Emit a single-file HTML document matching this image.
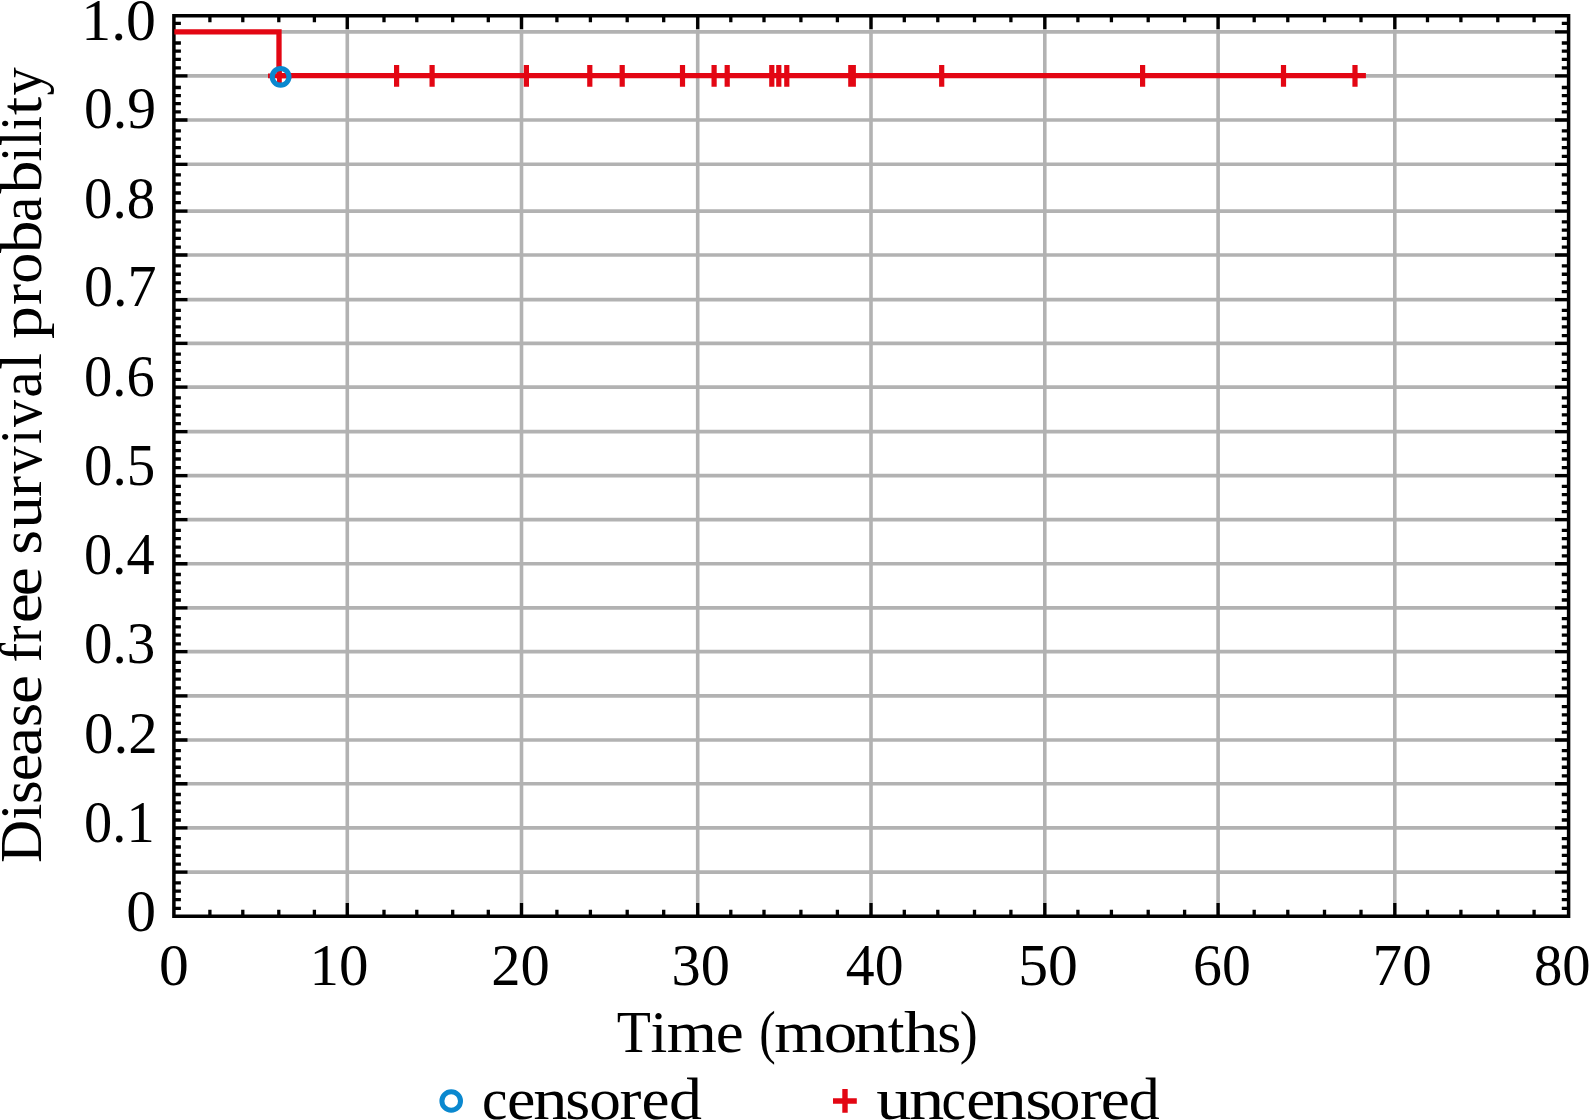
<!DOCTYPE html>
<html><head><meta charset="utf-8"><title>Disease free survival</title>
<style>
html,body{margin:0;padding:0;background:#fff;width:1589px;height:1120px;overflow:hidden}
svg{display:block}
text{font-family:"Liberation Serif",serif;fill:#000;font-kerning:none}
</style></head>
<body>
<svg width="1589" height="1120" viewBox="0 0 1589 1120">
<rect width="1589" height="1120" fill="#fff"/>
<path d="M173.90 31.90H1568.60M173.90 75.90H1568.60M173.90 120.00H1568.60M173.90 164.30H1568.60M173.90 211.10H1568.60M173.90 255.00H1568.60M173.90 299.60H1568.60M173.90 343.40H1568.60M173.90 387.10H1568.60M173.90 431.60H1568.60M173.90 475.60H1568.60M173.90 519.60H1568.60M173.90 563.75H1568.60M173.90 607.90H1568.60M173.90 651.60H1568.60M173.90 695.90H1568.60M173.90 740.00H1568.60M173.90 783.75H1568.60M173.90 827.90H1568.60M173.90 872.10H1568.60M347.30 15.75V916.25M521.50 15.75V916.25M697.70 15.75V916.25M871.00 15.75V916.25M1044.80 15.75V916.25M1218.10 15.75V916.25M1394.80 15.75V916.25" stroke="#b2b2b2" stroke-width="3.6" fill="none"/>
<path d="M173.90 31.90H187.50M1568.60 31.90H1555.00M173.90 75.90H187.50M1568.60 75.90H1555.00M173.90 120.00H187.50M1568.60 120.00H1555.00M173.90 164.30H187.50M1568.60 164.30H1555.00M173.90 211.10H187.50M1568.60 211.10H1555.00M173.90 255.00H187.50M1568.60 255.00H1555.00M173.90 299.60H187.50M1568.60 299.60H1555.00M173.90 343.40H187.50M1568.60 343.40H1555.00M173.90 387.10H187.50M1568.60 387.10H1555.00M173.90 431.60H187.50M1568.60 431.60H1555.00M173.90 475.60H187.50M1568.60 475.60H1555.00M173.90 519.60H187.50M1568.60 519.60H1555.00M173.90 563.75H187.50M1568.60 563.75H1555.00M173.90 607.90H187.50M1568.60 607.90H1555.00M173.90 651.60H187.50M1568.60 651.60H1555.00M173.90 695.90H187.50M1568.60 695.90H1555.00M173.90 740.00H187.50M1568.60 740.00H1555.00M173.90 783.75H187.50M1568.60 783.75H1555.00M173.90 827.90H187.50M1568.60 827.90H1555.00M173.90 872.10H187.50M1568.60 872.10H1555.00M173.90 23.40H180.90M1568.60 23.40H1561.80M173.90 43.00H180.90M1568.60 43.00H1561.80M173.90 51.20H180.90M1568.60 51.20H1561.80M173.90 59.40H180.90M1568.60 59.40H1561.80M173.90 67.90H180.90M1568.60 67.90H1561.80M173.90 87.50H180.90M1568.60 87.50H1561.80M173.90 95.60H180.90M1568.60 95.60H1561.80M173.90 103.60H180.90M1568.60 103.60H1561.80M173.90 111.90H180.90M1568.60 111.90H1561.80M173.90 174.80H180.90M1568.60 174.80H1561.80M173.90 184.00H180.90M1568.60 184.00H1561.80M173.90 193.00H180.90M1568.60 193.00H1561.80M173.90 202.70H180.90M1568.60 202.70H1561.80M173.90 130.81H180.90M1568.60 130.81H1561.80M173.90 139.14H180.90M1568.60 139.14H1561.80M173.90 147.60H180.90M1568.60 147.60H1561.80M173.90 156.37H180.90M1568.60 156.37H1561.80M173.90 221.81H180.90M1568.60 221.81H1561.80M173.90 230.06H180.90M1568.60 230.06H1561.80M173.90 238.45H180.90M1568.60 238.45H1561.80M173.90 247.14H180.90M1568.60 247.14H1561.80M173.90 265.88H180.90M1568.60 265.88H1561.80M173.90 274.27H180.90M1568.60 274.27H1561.80M173.90 282.79H180.90M1568.60 282.79H1561.80M173.90 291.62H180.90M1568.60 291.62H1561.80M173.90 310.29H180.90M1568.60 310.29H1561.80M173.90 318.52H180.90M1568.60 318.52H1561.80M173.90 326.89H180.90M1568.60 326.89H1561.80M173.90 335.56H180.90M1568.60 335.56H1561.80M173.90 354.06H180.90M1568.60 354.06H1561.80M173.90 362.28H180.90M1568.60 362.28H1561.80M173.90 370.63H180.90M1568.60 370.63H1561.80M173.90 379.28H180.90M1568.60 379.28H1561.80M173.90 397.96H180.90M1568.60 397.96H1561.80M173.90 406.32H180.90M1568.60 406.32H1561.80M173.90 414.82H180.90M1568.60 414.82H1561.80M173.90 423.63H180.90M1568.60 423.63H1561.80M173.90 442.34H180.90M1568.60 442.34H1561.80M173.90 450.61H180.90M1568.60 450.61H1561.80M173.90 459.01H180.90M1568.60 459.01H1561.80M173.90 467.72H180.90M1568.60 467.72H1561.80M173.90 486.34H180.90M1568.60 486.34H1561.80M173.90 494.61H180.90M1568.60 494.61H1561.80M173.90 503.01H180.90M1568.60 503.01H1561.80M173.90 511.72H180.90M1568.60 511.72H1561.80M173.90 530.37H180.90M1568.60 530.37H1561.80M173.90 538.67H180.90M1568.60 538.67H1561.80M173.90 547.11H180.90M1568.60 547.11H1561.80M173.90 555.85H180.90M1568.60 555.85H1561.80M173.90 574.52H180.90M1568.60 574.52H1561.80M173.90 582.82H180.90M1568.60 582.82H1561.80M173.90 591.26H180.90M1568.60 591.26H1561.80M173.90 600.00H180.90M1568.60 600.00H1561.80M173.90 618.56H180.90M1568.60 618.56H1561.80M173.90 626.78H180.90M1568.60 626.78H1561.80M173.90 635.13H180.90M1568.60 635.13H1561.80M173.90 643.78H180.90M1568.60 643.78H1561.80M173.90 662.41H180.90M1568.60 662.41H1561.80M173.90 670.74H180.90M1568.60 670.74H1561.80M173.90 679.20H180.90M1568.60 679.20H1561.80M173.90 687.97H180.90M1568.60 687.97H1561.80M173.90 706.66H180.90M1568.60 706.66H1561.80M173.90 714.95H180.90M1568.60 714.95H1561.80M173.90 723.37H180.90M1568.60 723.37H1561.80M173.90 732.11H180.90M1568.60 732.11H1561.80M173.90 750.67H180.90M1568.60 750.67H1561.80M173.90 758.90H180.90M1568.60 758.90H1561.80M173.90 767.26H180.90M1568.60 767.26H1561.80M173.90 775.92H180.90M1568.60 775.92H1561.80M173.90 794.52H180.90M1568.60 794.52H1561.80M173.90 802.82H180.90M1568.60 802.82H1561.80M173.90 811.26H180.90M1568.60 811.26H1561.80M173.90 820.00H180.90M1568.60 820.00H1561.80M173.90 838.68H180.90M1568.60 838.68H1561.80M173.90 846.99H180.90M1568.60 846.99H1561.80M173.90 855.44H180.90M1568.60 855.44H1561.80M173.90 864.19H180.90M1568.60 864.19H1561.80M173.90 882.87H180.90M1568.60 882.87H1561.80M173.90 891.17H180.90M1568.60 891.17H1561.80M173.90 899.61H180.90M1568.60 899.61H1561.80M173.90 908.35H180.90M1568.60 908.35H1561.80M347.30 916.25V902.95M347.30 15.75V29.05M521.50 916.25V902.95M521.50 15.75V29.05M697.70 916.25V902.95M697.70 15.75V29.05M871.00 916.25V902.95M871.00 15.75V29.05M1044.80 916.25V902.95M1044.80 15.75V29.05M1218.10 916.25V902.95M1218.10 15.75V29.05M1394.80 916.25V902.95M1394.80 15.75V29.05M209.90 916.25V909.85M209.90 15.75V22.15M242.80 916.25V909.85M242.80 15.75V22.15M278.80 916.25V909.85M278.80 15.75V22.15M314.40 916.25V909.85M314.40 15.75V22.15M384.00 916.25V909.85M384.00 15.75V22.15M416.80 916.25V909.85M416.80 15.75V22.15M452.70 916.25V909.85M452.70 15.75V22.15M488.30 916.25V909.85M488.30 15.75V22.15M556.90 916.25V909.85M556.90 15.75V22.15M590.40 916.25V909.85M590.40 15.75V22.15M627.20 916.25V909.85M627.20 15.75V22.15M663.70 916.25V909.85M663.70 15.75V22.15M730.80 916.25V909.85M730.80 15.75V22.15M764.00 916.25V909.85M764.00 15.75V22.15M800.90 916.25V909.85M800.90 15.75V22.15M837.40 916.25V909.85M837.40 15.75V22.15M904.30 916.25V909.85M904.30 15.75V22.15M937.80 916.25V909.85M937.80 15.75V22.15M974.50 916.25V909.85M974.50 15.75V22.15M1010.90 916.25V909.85M1010.90 15.75V22.15M1077.90 916.25V909.85M1077.90 15.75V22.15M1111.40 916.25V909.85M1111.40 15.75V22.15M1148.20 916.25V909.85M1148.20 15.75V22.15M1184.60 916.25V909.85M1184.60 15.75V22.15M1254.20 916.25V909.85M1254.20 15.75V22.15M1287.80 916.25V909.85M1287.80 15.75V22.15M1324.50 916.25V909.85M1324.50 15.75V22.15M1361.00 916.25V909.85M1361.00 15.75V22.15M1427.50 916.25V909.85M1427.50 15.75V22.15M1460.90 916.25V909.85M1460.90 15.75V22.15M1497.80 916.25V909.85M1497.80 15.75V22.15M1534.10 916.25V909.85M1534.10 15.75V22.15" stroke="#000" stroke-width="3.3" fill="none"/>
<rect x="173.9" y="15.75" width="1394.70" height="900.50" fill="none" stroke="#000" stroke-width="3.5"/>
<path d="M174.30 31.8H279.0V75.7H1365.9" stroke="#e30613" stroke-width="5.3" fill="none" stroke-linejoin="miter"/>
<path d="M396.60 65V86.7M432.10 65V86.7M526.40 65V86.7M589.80 65V86.7M622.20 65V86.7M682.50 65V86.7M714.10 65V86.7M727.20 65V86.7M771.80 65V86.7M778.80 65V86.7M786.80 65V86.7M850.80 65V86.7M853.30 65V86.7M941.70 65V86.7M1142.60 65V86.7M1283.50 65V86.7M1355.00 65V86.7" stroke="#e30613" stroke-width="5.2" fill="none"/>
<path d="M268 75.8H292M279.4 66V86" stroke="#e30613" stroke-width="4.8" fill="none"/>
<circle cx="280.6" cy="76.8" r="8.35" fill="none" stroke="#0a88cf" stroke-width="5.1"/>
<text x="81.24" y="40.04" font-size="59.3" textLength="74.79" lengthAdjust="spacingAndGlyphs">1.0</text>
<text x="84.05" y="128.44" font-size="59.3" textLength="72.06" lengthAdjust="spacingAndGlyphs">0.9</text>
<text x="84.08" y="217.54" font-size="59.3" textLength="71.19" lengthAdjust="spacingAndGlyphs">0.8</text>
<text x="84.04" y="306.34" font-size="59.3" textLength="72.64" lengthAdjust="spacingAndGlyphs">0.7</text>
<text x="84.10" y="396.34" font-size="59.3" textLength="70.69" lengthAdjust="spacingAndGlyphs">0.6</text>
<text x="84.08" y="485.44" font-size="59.3" textLength="71.25" lengthAdjust="spacingAndGlyphs">0.5</text>
<text x="84.10" y="574.44" font-size="59.3" textLength="70.53" lengthAdjust="spacingAndGlyphs">0.4</text>
<text x="84.08" y="663.44" font-size="59.3" textLength="71.25" lengthAdjust="spacingAndGlyphs">0.3</text>
<text x="84.01" y="753.44" font-size="59.3" textLength="73.64" lengthAdjust="spacingAndGlyphs">0.2</text>
<text x="84.10" y="841.94" font-size="59.3" textLength="70.54" lengthAdjust="spacingAndGlyphs">0.1</text>
<text x="126.23" y="931.34" font-size="59.3" textLength="29.79" lengthAdjust="spacingAndGlyphs">0</text>
<text x="158.98" y="985.44" font-size="59.3" textLength="29.79" lengthAdjust="spacingAndGlyphs">0</text>
<text x="309.52" y="985.44" font-size="59.3" textLength="58.98" lengthAdjust="spacingAndGlyphs">10</text>
<text x="491.32" y="985.44" font-size="59.3" textLength="58.61" lengthAdjust="spacingAndGlyphs">20</text>
<text x="671.50" y="985.44" font-size="59.3" textLength="58.42" lengthAdjust="spacingAndGlyphs">30</text>
<text x="845.77" y="985.44" font-size="59.3" textLength="57.73" lengthAdjust="spacingAndGlyphs">40</text>
<text x="1018.13" y="985.44" font-size="59.3" textLength="59.64" lengthAdjust="spacingAndGlyphs">50</text>
<text x="1193.12" y="985.44" font-size="59.3" textLength="57.78" lengthAdjust="spacingAndGlyphs">60</text>
<text x="1372.60" y="985.44" font-size="59.3" textLength="59.15" lengthAdjust="spacingAndGlyphs">70</text>
<text x="1533.94" y="985.44" font-size="59.3" textLength="56.61" lengthAdjust="spacingAndGlyphs">80</text>
<text x="616.79" y="1051.90" font-size="59.6" textLength="34.14" lengthAdjust="spacingAndGlyphs">T</text><text x="650.58" y="1051.90" font-size="59.6" textLength="16.77" lengthAdjust="spacingAndGlyphs">i</text><text x="666.65" y="1051.90" font-size="59.6" textLength="50.16" lengthAdjust="spacingAndGlyphs">m</text><text x="715.74" y="1051.90" font-size="59.6" textLength="27.94" lengthAdjust="spacingAndGlyphs">e</text>
<text x="759.13" y="1051.90" font-size="59.6" textLength="16.47" lengthAdjust="spacingAndGlyphs">(</text><text x="774.22" y="1051.90" font-size="59.6" textLength="51.00" lengthAdjust="spacingAndGlyphs">m</text><text x="823.65" y="1051.90" font-size="59.6" textLength="33.50" lengthAdjust="spacingAndGlyphs">o</text><text x="854.02" y="1051.90" font-size="59.6" textLength="34.42" lengthAdjust="spacingAndGlyphs">n</text><text x="887.71" y="1051.90" font-size="59.6" textLength="16.74" lengthAdjust="spacingAndGlyphs">t</text><text x="904.12" y="1051.90" font-size="59.6" textLength="34.59" lengthAdjust="spacingAndGlyphs">h</text><text x="937.28" y="1051.90" font-size="59.6" textLength="23.95" lengthAdjust="spacingAndGlyphs">s</text><text x="959.86" y="1051.90" font-size="59.6" textLength="18.02" lengthAdjust="spacingAndGlyphs">)</text>
<g transform="translate(41.1 861.4) rotate(-90)"><text x="-1.57" y="0.00" font-size="59.6" textLength="43.11" lengthAdjust="spacingAndGlyphs">D</text><text x="41.69" y="0.00" font-size="59.6" textLength="16.07" lengthAdjust="spacingAndGlyphs">i</text><text x="57.40" y="0.00" font-size="59.6" textLength="23.70" lengthAdjust="spacingAndGlyphs">s</text><text x="80.21" y="0.00" font-size="59.6" textLength="27.76" lengthAdjust="spacingAndGlyphs">e</text><text x="105.49" y="0.00" font-size="59.6" textLength="29.21" lengthAdjust="spacingAndGlyphs">a</text><text x="134.22" y="0.00" font-size="59.6" textLength="24.45" lengthAdjust="spacingAndGlyphs">s</text><text x="157.44" y="0.00" font-size="59.6" textLength="29.14" lengthAdjust="spacingAndGlyphs">e</text><text x="198.89" y="0.00" font-size="59.6" textLength="19.61" lengthAdjust="spacingAndGlyphs">f</text><text x="218.99" y="0.00" font-size="59.6" textLength="16.86" lengthAdjust="spacingAndGlyphs">r</text><text x="238.06" y="0.00" font-size="59.6" textLength="29.98" lengthAdjust="spacingAndGlyphs">e</text><text x="265.24" y="0.00" font-size="59.6" textLength="29.14" lengthAdjust="spacingAndGlyphs">e</text><text x="306.67" y="0.00" font-size="59.6" textLength="24.95" lengthAdjust="spacingAndGlyphs">s</text><text x="332.64" y="0.00" font-size="59.6" textLength="32.79" lengthAdjust="spacingAndGlyphs">u</text><text x="364.43" y="0.00" font-size="59.6" textLength="21.13" lengthAdjust="spacingAndGlyphs">r</text><text x="387.80" y="0.00" font-size="59.6" textLength="27.20" lengthAdjust="spacingAndGlyphs">v</text><text x="417.36" y="0.00" font-size="59.6" textLength="15.07" lengthAdjust="spacingAndGlyphs">i</text><text x="434.30" y="0.00" font-size="59.6" textLength="27.10" lengthAdjust="spacingAndGlyphs">v</text><text x="463.60" y="0.00" font-size="59.6" textLength="26.52" lengthAdjust="spacingAndGlyphs">a</text><text x="491.60" y="0.00" font-size="59.6" textLength="16.71" lengthAdjust="spacingAndGlyphs">l</text><text x="522.44" y="0.00" font-size="59.6" textLength="32.93" lengthAdjust="spacingAndGlyphs">p</text><text x="556.53" y="0.00" font-size="59.6" textLength="21.13" lengthAdjust="spacingAndGlyphs">r</text><text x="577.63" y="0.00" font-size="59.6" textLength="31.14" lengthAdjust="spacingAndGlyphs">o</text><text x="608.50" y="0.00" font-size="59.6" textLength="32.47" lengthAdjust="spacingAndGlyphs">b</text><text x="639.39" y="0.00" font-size="59.6" textLength="25.39" lengthAdjust="spacingAndGlyphs">a</text><text x="667.80" y="0.00" font-size="59.6" textLength="32.91" lengthAdjust="spacingAndGlyphs">b</text><text x="700.12" y="0.00" font-size="59.6" textLength="14.25" lengthAdjust="spacingAndGlyphs">i</text><text x="715.31" y="0.00" font-size="59.6" textLength="15.07" lengthAdjust="spacingAndGlyphs">l</text><text x="731.22" y="0.00" font-size="59.6" textLength="14.25" lengthAdjust="spacingAndGlyphs">i</text><text x="746.15" y="0.00" font-size="59.6" textLength="18.44" lengthAdjust="spacingAndGlyphs">t</text><text x="765.81" y="0.00" font-size="59.6" textLength="28.21" lengthAdjust="spacingAndGlyphs">y</text></g>
<circle cx="451.2" cy="1101" r="9.3" fill="none" stroke="#0a88cf" stroke-width="5"/>
<path d="M833 1101H856.8M845 1089.1V1112.7" stroke="#e30613" stroke-width="5.4" fill="none"/>
<text x="482.02" y="1118.60" font-size="59.0" textLength="25.45" lengthAdjust="spacingAndGlyphs">c</text><text x="507.00" y="1118.60" font-size="59.0" textLength="28.42" lengthAdjust="spacingAndGlyphs">e</text><text x="533.23" y="1118.60" font-size="59.0" textLength="34.31" lengthAdjust="spacingAndGlyphs">n</text><text x="565.37" y="1118.60" font-size="59.0" textLength="24.95" lengthAdjust="spacingAndGlyphs">s</text><text x="589.39" y="1118.60" font-size="59.0" textLength="31.62" lengthAdjust="spacingAndGlyphs">o</text><text x="619.58" y="1118.60" font-size="59.0" textLength="21.89" lengthAdjust="spacingAndGlyphs">r</text><text x="641.43" y="1118.60" font-size="59.0" textLength="28.06" lengthAdjust="spacingAndGlyphs">e</text><text x="669.12" y="1118.60" font-size="59.0" textLength="32.99" lengthAdjust="spacingAndGlyphs">d</text>
<text x="876.17" y="1118.60" font-size="59.0" textLength="35.13" lengthAdjust="spacingAndGlyphs">u</text><text x="908.98" y="1118.60" font-size="59.0" textLength="35.29" lengthAdjust="spacingAndGlyphs">n</text><text x="941.60" y="1118.60" font-size="59.0" textLength="24.50" lengthAdjust="spacingAndGlyphs">c</text><text x="966.16" y="1118.60" font-size="59.0" textLength="28.90" lengthAdjust="spacingAndGlyphs">e</text><text x="992.63" y="1118.60" font-size="59.0" textLength="34.21" lengthAdjust="spacingAndGlyphs">n</text><text x="1025.17" y="1118.60" font-size="59.0" textLength="26.82" lengthAdjust="spacingAndGlyphs">s</text><text x="1049.33" y="1118.60" font-size="59.0" textLength="31.14" lengthAdjust="spacingAndGlyphs">o</text><text x="1080.10" y="1118.60" font-size="59.0" textLength="21.68" lengthAdjust="spacingAndGlyphs">r</text><text x="1100.84" y="1118.60" font-size="59.0" textLength="29.14" lengthAdjust="spacingAndGlyphs">e</text><text x="1128.76" y="1118.60" font-size="59.0" textLength="31.00" lengthAdjust="spacingAndGlyphs">d</text>
</svg>
</body></html>
